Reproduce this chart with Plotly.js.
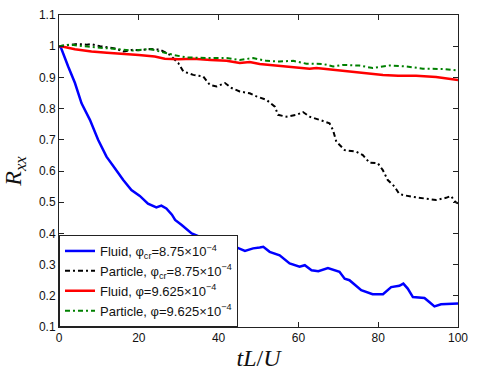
<!DOCTYPE html>
<html>
<head>
<meta charset="utf-8">
<script src="https://cdn.plot.ly/plotly-3.0.1.min.js"></script>
<style>
  html, body { margin: 0; padding: 0; background: #fff; }
  #chart { width: 498px; height: 382px; }
</style>
</head>
<body>
<div id="chart"></div>
<script>
// Fluid, phi_cr = 8.75e-4 (blue)
const tFluidCr = [0, 0.5, 2.3, 4, 5.65, 7.75, 9.8, 11.9, 14, 16.1, 18.15, 20.25, 22.3, 24.4, 25.65, 26.9,
  28.3, 29.1, 30.75, 33.25, 35.5, 38, 40.5, 42, 44.5, 46.6, 48.65, 50.3, 51.2, 52.8, 55.3, 57.8, 60.3,
  61.6, 63.3, 65, 67.4, 70.3, 71.6, 72.8, 75.75, 78.6, 81.2, 83.25, 85.3, 86.3, 87.4, 88.7, 91.6, 92.8,
  94.1, 95.75, 97.8, 100];
const rFluidCr = [1.0, 0.995, 0.935, 0.882, 0.817, 0.764, 0.70, 0.646, 0.609, 0.571, 0.539, 0.52, 0.495, 0.483, 0.489, 0.48,
  0.46, 0.443, 0.427, 0.40, 0.388, 0.376, 0.367, 0.362, 0.355, 0.344, 0.352, 0.355, 0.357, 0.341, 0.33, 0.304, 0.293,
  0.298, 0.282, 0.279, 0.289, 0.277, 0.255, 0.25, 0.218, 0.205, 0.205, 0.228, 0.232, 0.239, 0.223, 0.196, 0.193, 0.18,
  0.166, 0.173, 0.173, 0.175];

// Particle, phi_cr = 8.75e-4 (black)
const tPartCr = [0, 2, 4.5, 7, 8, 10.3, 12, 14, 16.2, 18.65, 20, 22.8, 25.3, 27.8, 29.9, 31.15, 33.65, 36.15,
  37.8, 39.5, 41.6, 43.25, 45.3, 47.8, 49.5, 52, 54.1, 54.9, 57, 59.5, 61.15, 62.8, 65.3, 67.8, 68.65, 69.5,
  71.6, 74.5, 76.15, 77.8, 79.9, 81.15, 82.4, 84.1, 85.2, 86.2, 88.65, 91.2, 94.5, 97, 98.25, 99.3, 100];
const rPartCr = [1.0, 1.003, 1.007, 1.005, 1.007, 1.0, 0.997, 0.993, 0.983, 0.989, 0.987, 0.991, 0.989, 0.972, 0.946, 0.919, 0.908, 0.903,
  0.876, 0.871, 0.882, 0.866, 0.855, 0.849, 0.839, 0.828, 0.806, 0.78, 0.774, 0.78, 0.789, 0.774, 0.764, 0.753, 0.732, 0.694,
  0.667, 0.662, 0.651, 0.627, 0.625, 0.603, 0.571, 0.55, 0.528, 0.523, 0.517, 0.512, 0.507, 0.514, 0.52, 0.501, 0.496];

// Fluid, phi = 9.625e-4 (red)
const tFluid = [0, 0.5, 4, 8.15, 12, 16.5, 20, 24, 26.5, 30, 33.65, 38, 42, 45.3, 47.8, 50.3, 53, 57, 60, 62.8,
  64.5, 68, 72.8, 76, 81.2, 85, 89.5, 94.5, 97, 100];
const rFluid = [1.0, 1.0, 0.99, 0.983, 0.979, 0.976, 0.972, 0.967, 0.96, 0.958, 0.96, 0.956, 0.953, 0.946, 0.949, 0.943, 0.94, 0.935, 0.932, 0.928,
  0.93, 0.925, 0.919, 0.915, 0.908, 0.905, 0.905, 0.901, 0.897, 0.892];

// Particle, phi = 9.625e-4 (green)
const tPart = [0, 2.8, 6, 10.3, 14, 18.6, 22.8, 25.3, 28.65, 32, 35, 37.8, 42, 45.3, 48.65, 52, 55.3, 58.7, 62,
  66.2, 68.7, 71.2, 75.3, 78.65, 82.8, 87, 91.2, 96.2, 100];
const rPart = [1.0, 1.005, 1.0, 0.996, 0.992, 0.986, 0.991, 0.983, 0.972, 0.964, 0.962, 0.962, 0.962, 0.956, 0.962, 0.953, 0.951, 0.953, 0.944,
  0.943, 0.935, 0.94, 0.938, 0.93, 0.938, 0.935, 0.928, 0.927, 0.922];

const names = [
  'Fluid, \u03c6<sub>cr</sub>=8.75\u00d710<sup>\u22124</sup>',
  'Particle, \u03c6<sub>cr</sub>=8.75\u00d710<sup>\u22124</sup>',
  'Fluid, \u03c6=9.625\u00d710<sup>\u22124</sup>',
  'Particle, \u03c6=9.625\u00d710<sup>\u22124</sup>'
];
const yTicks = [0.1, 0.2, 0.3, 0.4, 0.5, 0.6, 0.7, 0.8, 0.9, 1, 1.1];
const yTickText = ['0.1', '0.2', '0.3', '0.4', '0.5', '0.6', '0.7', '0.8', '0.9', '1', '1.1'];
const xTicks = [0, 20, 40, 60, 80, 100];

const traces = [
  { x: tFluidCr, y: rFluidCr, name: names[0], line: { color: '#0000ff', width: 2.5 } },
  { x: tPartCr, y: rPartCr, name: names[1], line: { color: '#000000', width: 2, dash: '5px,3px,2px,3px' } },
  { x: tFluid, y: rFluid, name: names[2], line: { color: '#ff0000', width: 2.5 } },
  { x: tPart, y: rPart, name: names[3], line: { color: '#008000', width: 2, dash: '5px,3px,2px,3px' } },
].map((t) => ({ ...t, type: 'scatter', mode: 'lines' }));

const axisStyle = {
  showline: true, linecolor: '#222', linewidth: 1, mirror: 'ticks',
  ticks: 'inside', ticklen: 5, tickcolor: '#222', showgrid: false, zeroline: false,
  tickfont: { family: 'Liberation Sans, Arial, sans-serif', size: 12, color: '#111' },
};

Plotly.newPlot('chart', traces, {
  width: 498, height: 382,
  paper_bgcolor: '#fff', plot_bgcolor: '#fff',
  margin: { l: 59, r: 40, t: 15, b: 55 },
  showlegend: true,
  legend: {
    x: 0, y: 0, xanchor: 'left', yanchor: 'bottom',
    bgcolor: '#fff', bordercolor: '#222', borderwidth: 1,
    font: { family: 'Liberation Sans, Arial, sans-serif', size: 13, color: '#111' },
    tracegroupgap: 0, itemwidth: 30,
  },
  xaxis: {
    ...axisStyle, range: [0, 100], tickvals: xTicks,
    title: { text: '<i>tL</i>/<i>U</i>', font: { family: 'Liberation Serif, DejaVu Serif, serif', size: 24, color: '#111' }, standoff: 4 },
  },
  yaxis: {
    ...axisStyle, range: [0.1, 1.1], tickvals: yTicks, ticktext: yTickText,
    title: { text: '<i>R</i><sub><i>xx</i></sub>', font: { family: 'Liberation Serif, DejaVu Serif, serif', size: 24, color: '#111' }, standoff: 10 },
  },
}, { displayModeBar: false, staticPlot: true });
</script>
</body>
</html>
